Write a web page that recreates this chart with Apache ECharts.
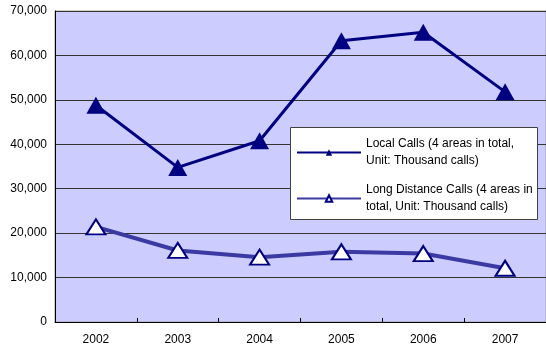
<!DOCTYPE html>
<html>
<head>
<meta charset="utf-8">
<script src="https://cdn.jsdelivr.net/npm/echarts@6/dist/echarts.min.js"></script>
<style>
  html, body { margin: 0; padding: 0; background: #ffffff; }
  #chart { width: 546px; height: 352px; }
</style>
</head>
<body>
<div id="chart"></div>
<script>
// Calls per year, 4 areas in total (thousand calls)
const years = ['2002', '2003', '2004', '2005', '2006', '2007'];
const localCalls = [48800, 34800, 40800, 63300, 65200, 51800];
const longDistanceCalls = [21400, 16100, 14600, 15800, 15400, 12100];
const seriesNames = [
  'Local Calls (4 areas in total,\nUnit: Thousand calls)',
  'Long Distance Calls (4 areas in\ntotal, Unit: Thousand calls)'
];

const NAVY = '#000080';
const LONG_BLUE = '#3a3aa2';
const FONT = '"Liberation Sans", Arial, sans-serif';

const chart = echarts.init(document.getElementById('chart'), null, { renderer: 'canvas' });

chart.setOption({
  animation: false,
  backgroundColor: '#ffffff',
  textStyle: { fontFamily: FONT },
  grid: {
    left: 55, top: 11, width: 492, bottom: 30,
    show: true,
    backgroundColor: '#CCCCFF',
    borderColor: '#a0a0a0',
    borderWidth: 1
  },
  // white framed box behind the legend
  graphic: [{
    type: 'rect',
    z: 10,
    left: 290, top: 127,
    shape: { width: 247, height: 92 },
    style: { fill: '#ffffff', stroke: '#404040', lineWidth: 1 }
  }],
  legend: {
    orient: 'vertical',
    left: 290,
    top: 127,
    z: 11,
    padding: [0, 3, 0, 6],
    itemGap: -5,
    itemWidth: 64,
    itemHeight: 8,
    textStyle: {
      fontFamily: FONT,
      fontSize: 12,
      color: '#000000',
      lineHeight: 17,
      padding: [17, 0, 0, 0]
    },
    data: [
      { name: seriesNames[0] },
      { name: seriesNames[1] }
    ]
  },
  xAxis: {
    type: 'category',
    data: years,
    boundaryGap: true,
    axisLine: { lineStyle: { color: '#000000', width: 1 } },
    axisTick: { show: true, inside: true, length: 4, lineStyle: { color: '#000000' } },
    axisLabel: { color: '#000000', fontSize: 12, fontFamily: FONT, margin: 12 },
    splitLine: { show: false }
  },
  yAxis: {
    type: 'value',
    min: 0,
    max: 70000,
    interval: 10000,
    axisLine: { show: true, lineStyle: { color: '#000000', width: 1 } },
    axisTick: { show: false },
    axisLabel: {
      color: '#000000', fontSize: 12, fontFamily: FONT, margin: 8,
      formatter: v => v.toLocaleString('en-US')
    },
    splitLine: { show: true, lineStyle: { color: '#333333', width: 1 } }
  },
  series: [
    {
      name: seriesNames[1],
      type: 'line',
      data: longDistanceCalls,
      symbol: 'triangle',
      symbolSize: [19, 15],
      showAllSymbol: true,
      lineStyle: { color: LONG_BLUE, width: 4 },
      itemStyle: { color: '#ffffff', borderColor: NAVY, borderWidth: 2 },
      z: 3
    },
    {
      name: seriesNames[0],
      type: 'line',
      data: localCalls,
      symbol: 'triangle',
      symbolSize: [19, 17],
      showAllSymbol: true,
      lineStyle: { color: NAVY, width: 3 },
      itemStyle: { color: NAVY, borderColor: NAVY, borderWidth: 0 },
      z: 4
    }
  ]
});
</script>
</body>
</html>
